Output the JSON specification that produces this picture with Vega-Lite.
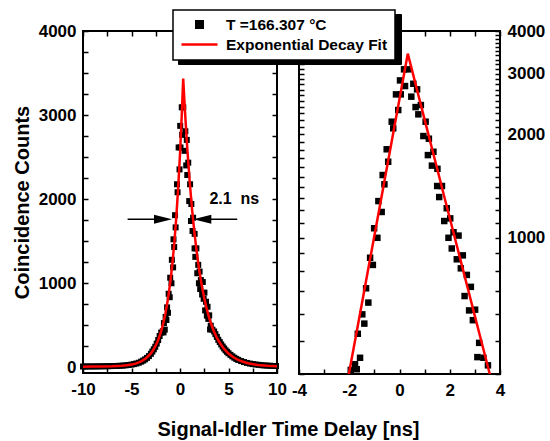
{
  "$schema": "https://vega.github.io/schema/vega-lite/v6.json",
  "padding": {"left": 11, "right": 2, "top": 9, "bottom": 0},
  "bounds": "flush",
  "spacing": 22,
  "config": {
    "font": "Liberation Sans",
    "view": {"stroke": "black", "strokeWidth": 2},
    "axis": {
      "domain": false, "grid": false, "tickColor": "black", "tickWidth": 1.5, "tickSize": -5,
      "labelFont": "Liberation Sans", "labelFontWeight": "bold", "labelFontSize": 17, "labelColor": "black",
      "labelFlush": false, "labelOverlap": false, "titleFont": "Liberation Sans", "titleFontWeight": "bold",
      "titleFontSize": 20, "titleColor": "black"
    },
    "axisX": {"labelPadding": 13},
    "axisY": {"labelPadding": 12},
    "legend": {
      "orient": "none", "title": null, "padding": 7, "labelLimit": 300,
      "labelFont": "Liberation Sans", "labelFontWeight": "bold", "labelFontSize": 15.5,
      "clipHeight": 15, "rowPadding": 4, "symbolOffset": 0
    }
  },
  "datasets": {
    "pts": [
      {"t": -10.0, "c": 7}, {"t": -9.8, "c": 7}, {"t": -9.5, "c": 8}, {"t": -9.2, "c": 8}, {"t": -8.9, "c": 8},
      {"t": -8.6, "c": 9}, {"t": -8.3, "c": 9}, {"t": -8.0, "c": 10}, {"t": -7.7, "c": 10}, {"t": -7.4, "c": 11},
      {"t": -7.1, "c": 12}, {"t": -6.8, "c": 13}, {"t": -6.5, "c": 14}, {"t": -6.2, "c": 16}, {"t": -5.9, "c": 18},
      {"t": -5.6, "c": 21}, {"t": -5.3, "c": 25}, {"t": -5.0, "c": 30}, {"t": -4.75, "c": 36}, {"t": -4.5, "c": 43},
      {"t": -4.25, "c": 52}, {"t": -4.0, "c": 65}, {"t": -3.8, "c": 78}, {"t": -3.6, "c": 92}, {"t": -3.4, "c": 110},
      {"t": -3.2, "c": 131}, {"t": -3.0, "c": 158}, {"t": -2.85, "c": 185}, {"t": -2.7, "c": 212}, {"t": -2.55, "c": 242},
      {"t": -2.4, "c": 280}, {"t": -2.25, "c": 322}, {"t": -2.1, "c": 370},
      {"t": -1.94, "c": 411}, {"t": -1.77, "c": 427}, {"t": -1.70, "c": 413}, {"t": -1.66, "c": 524}, {"t": -1.57, "c": 446},
      {"t": -1.48, "c": 597}, {"t": -1.40, "c": 561}, {"t": -1.33, "c": 711}, {"t": -1.24, "c": 646}, {"t": -1.17, "c": 873},
      {"t": -1.06, "c": 832}, {"t": -1.01, "c": 1064}, {"t": -0.88, "c": 998}, {"t": -0.84, "c": 1277}, {"t": -0.71, "c": 1187},
      {"t": -0.67, "c": 1521}, {"t": -0.60, "c": 1429}, {"t": -0.51, "c": 1808}, {"t": -0.45, "c": 1663}, {"t": -0.31, "c": 2176},
      {"t": -0.25, "c": 2081}, {"t": -0.14, "c": 2614}, {"t": -0.05, "c": 2353}, {"t": 0.02, "c": 2871}, {"t": 0.05, "c": 2614},
      {"t": 0.18, "c": 3092}, {"t": 0.22, "c": 2764}, {"t": 0.34, "c": 3092},
      {"t": 0.47, "c": 2574}, {"t": 0.55, "c": 2807}, {"t": 0.64, "c": 2400}, {"t": 0.70, "c": 2704}, {"t": 0.75, "c": 2286},
      {"t": 0.85, "c": 2433}, {"t": 0.95, "c": 1976}, {"t": 1.04, "c": 2176}, {"t": 1.13, "c": 1739}, {"t": 1.17, "c": 1941},
      {"t": 1.29, "c": 1620}, {"t": 1.35, "c": 1778}, {"t": 1.50, "c": 1413}, {"t": 1.51, "c": 1586}, {"t": 1.58, "c": 1312},
      {"t": 1.69, "c": 1413}, {"t": 1.78, "c": 1117}, {"t": 1.88, "c": 1217}, {"t": 1.95, "c": 998}, {"t": 2.02, "c": 1137},
      {"t": 2.08, "c": 929}, {"t": 2.15, "c": 1036}, {"t": 2.28, "c": 864}, {"t": 2.35, "c": 1013}, {"t": 2.44, "c": 813},
      {"t": 2.52, "c": 887}, {"t": 2.59, "c": 675}, {"t": 2.68, "c": 778}, {"t": 2.77, "c": 613}, {"t": 2.84, "c": 718},
      {"t": 2.92, "c": 574}, {"t": 3.01, "c": 616}, {"t": 3.10, "c": 448}, {"t": 3.17, "c": 493}, {"t": 3.34, "c": 446},
      {"t": 3.52, "c": 424},
      {"t": 3.65, "c": 392}, {"t": 3.8, "c": 360}, {"t": 3.95, "c": 325}, {"t": 4.1, "c": 298}, {"t": 4.25, "c": 270},
      {"t": 4.4, "c": 245}, {"t": 4.55, "c": 222}, {"t": 4.7, "c": 200}, {"t": 4.85, "c": 182}, {"t": 5.0, "c": 165},
      {"t": 5.2, "c": 146}, {"t": 5.4, "c": 128}, {"t": 5.6, "c": 112}, {"t": 5.8, "c": 98}, {"t": 6.0, "c": 86},
      {"t": 6.3, "c": 72}, {"t": 6.6, "c": 60}, {"t": 6.9, "c": 50}, {"t": 7.2, "c": 42}, {"t": 7.5, "c": 36},
      {"t": 7.8, "c": 31}, {"t": 8.1, "c": 27}, {"t": 8.4, "c": 23}, {"t": 8.7, "c": 20}, {"t": 9.0, "c": 18},
      {"t": 9.3, "c": 16}, {"t": 9.6, "c": 14}, {"t": 9.9, "c": 13}
    ],
    "fit": [
      {"t": -10, "c": 5}, {"t": -9, "c": 6}, {"t": -8, "c": 7}, {"t": -7, "c": 9}, {"t": -6, "c": 15},
      {"t": -5.5, "c": 21}, {"t": -5, "c": 30}, {"t": -4.5, "c": 45}, {"t": -4, "c": 68}, {"t": -3.5, "c": 106},
      {"t": -3, "c": 164}, {"t": -2.75, "c": 206}, {"t": -2.5, "c": 258}, {"t": -2.25, "c": 323}, {"t": -2.0, "c": 406},
      {"t": -1.75, "c": 509}, {"t": -1.5, "c": 640}, {"t": -1.25, "c": 805}, {"t": -1.0, "c": 1012}, {"t": -0.8, "c": 1215},
      {"t": -0.6, "c": 1461}, {"t": -0.4, "c": 1755}, {"t": -0.2, "c": 2109}, {"t": 0.0, "c": 2535}, {"t": 0.2, "c": 3048},
      {"t": 0.33, "c": 3435},
      {"t": 0.5, "c": 3070}, {"t": 0.75, "c": 2602}, {"t": 1.0, "c": 2206}, {"t": 1.25, "c": 1870}, {"t": 1.5, "c": 1586},
      {"t": 1.75, "c": 1344}, {"t": 2.0, "c": 1140}, {"t": 2.25, "c": 967}, {"t": 2.5, "c": 820}, {"t": 2.75, "c": 696},
      {"t": 3.0, "c": 590}, {"t": 3.25, "c": 501}, {"t": 3.5, "c": 425}, {"t": 3.75, "c": 361}, {"t": 4.0, "c": 307},
      {"t": 4.5, "c": 222}, {"t": 5.0, "c": 161}, {"t": 5.5, "c": 117}, {"t": 6.0, "c": 85}, {"t": 6.5, "c": 63},
      {"t": 7, "c": 46}, {"t": 8, "c": 26}, {"t": 9, "c": 16}, {"t": 10, "c": 11}
    ]
  },
  "resolve": {"scale": {"x": "independent", "y": "independent"}},
  "hconcat": [
    {
      "width": 194,
      "height": 342,
      "resolve": {"axis": {"x": "independent", "y": "independent"}},
      "layer": [
        {
          "data": {"name": "pts"},
          "mark": {"type": "point", "shape": "square", "filled": true, "size": 36, "opacity": 1},
          "encoding": {
            "x": {"field": "t", "type": "quantitative",
              "scale": {"domain": [-10, 10], "nice": false, "zero": false},
              "axis": {"orient": "bottom", "values": [-10, -7.5, -5, -2.5, 0, 2.5, 5, 7.5, 10],
                "labelExpr": "datum.value % 5 === 0 ? (datum.value < 0 ? '-' + abs(datum.value) : '' + datum.value) : ''",
                "title": "Signal-Idler Time Delay [ns]", "titleX": 205, "titleY": 56, "titleBaseline": "middle"}},
            "y": {"field": "c", "type": "quantitative",
              "scale": {"domain": [-70, 4000], "nice": false, "zero": false},
              "axis": {"orient": "left", "values": [0, 250, 500, 750, 1000, 1250, 1500, 1750, 2000, 2250, 2500, 2750, 3000, 3250, 3500, 3750, 4000],
                "labelExpr": "datum.value % 1000 === 0 ? '' + datum.value : ''",
                "title": "Coincidence Counts", "titlePadding": 6}},
            "color": {"datum": "T =166.307 °C", "type": "nominal",
              "scale": {"domain": ["T =166.307 °C", "Exponential Decay Fit"], "range": ["black", "red"]},
              "legend": {
                "legendX": 90, "legendY": -21, "fillColor": "white", "strokeColor": "black", "zindex": 2, "labelColor": "black",
                "labelOffset": 7,
                "encode": {
                  "legend": {"update": {"strokeWidth": {"value": 1.5}}},
                  "symbols": {"update": {
                    "size": {"value": 1296},
                    "strokeWidth": {"value": 2.5},
                    "shape": {"signal": "datum.value === 'Exponential Decay Fit' ? 'stroke' : 'M-0.18,-0.18H0.18V0.18H-0.18Z'"},
                    "fill": {"signal": "datum.value === 'Exponential Decay Fit' ? 'transparent' : 'black'"},
                    "stroke": {"signal": "datum.value === 'Exponential Decay Fit' ? 'red' : 'transparent'"},
                    "opacity": {"value": 1}
                  }}
                }
              }}
          }
        },
        {
          "data": {"name": "fit"},
          "mark": {"type": "line", "strokeWidth": 2.5},
          "encoding": {
            "x": {"field": "t", "type": "quantitative",
              "axis": {"orient": "top", "values": [-10, -7.5, -5, -2.5, 0, 2.5, 5, 7.5, 10], "labels": false, "title": null}},
            "y": {"field": "c", "type": "quantitative",
              "axis": {"orient": "right", "values": [0, 250, 500, 750, 1000, 1250, 1500, 1750, 2000, 2250, 2500, 2750, 3000, 3250, 3500, 3750, 4000], "labels": false, "title": null}},
            "color": {"datum": "Exponential Decay Fit", "type": "nominal",
              "scale": {"domain": ["T =166.307 °C", "Exponential Decay Fit"], "range": ["black", "red"]},
              "legend": {
                "legendX": 90, "legendY": -21, "fillColor": "white", "strokeColor": "black", "zindex": 2, "labelColor": "black",
                "labelOffset": 7,
                "encode": {
                  "legend": {"update": {"strokeWidth": {"value": 1.5}}},
                  "symbols": {"update": {
                    "size": {"value": 1296},
                    "strokeWidth": {"value": 2.5},
                    "shape": {"signal": "datum.value === 'Exponential Decay Fit' ? 'stroke' : 'M-0.18,-0.18H0.18V0.18H-0.18Z'"},
                    "fill": {"signal": "datum.value === 'Exponential Decay Fit' ? 'transparent' : 'black'"},
                    "stroke": {"signal": "datum.value === 'Exponential Decay Fit' ? 'red' : 'transparent'"},
                    "opacity": {"value": 1}
                  }}
                }
              }}
          }
        },
        {
          "data": {"values": [{"t": -5.4, "t2": -1.9, "c": 1760}, {"t": 2.45, "t2": 5.9, "c": 1760}]},
          "mark": {"type": "rule", "color": "black", "strokeWidth": 1.5},
          "encoding": {
            "x": {"field": "t", "type": "quantitative", "axis": null},
            "x2": {"field": "t2"},
            "y": {"field": "c", "type": "quantitative", "axis": null},
            "strokeDash": {"datum": "a", "type": "nominal",
              "scale": {"domain": ["a", "b"], "range": [[1, 0], [1, 0]]},
              "legend": {
                "legendX": 95, "legendY": -17, "fillColor": "black", "strokeColor": "black", "zindex": 1,
                "symbolSize": 42849, "labelOffset": 0, "labelExpr": "''",
                "encode": {"symbols": {"update": {"opacity": {"value": 0}}}}
              }}
          }
        },
        {
          "data": {"values": [{"t": -1.75, "c": 1760, "dir": "r"}, {"t": 2.3, "c": 1760, "dir": "l"}]},
          "mark": {"type": "point", "filled": true, "color": "black", "size": 324, "opacity": 1},
          "encoding": {
            "x": {"field": "t", "type": "quantitative", "axis": null},
            "y": {"field": "c", "type": "quantitative", "axis": null},
            "shape": {"field": "dir", "type": "nominal", "legend": null,
              "scale": {"domain": ["r", "l"], "range": ["M-1,-0.5L1,0L-1,0.5Z", "M1,-0.5L-1,0L1,0.5Z"]}}
          }
        },
        {
          "data": {"values": [{"t": 5.6, "c": 2000, "label": "2.1\u00a0\u00a0ns"}]},
          "mark": {"type": "text", "font": "Liberation Sans", "fontWeight": "bold", "fontSize": 16, "color": "black", "align": "center", "baseline": "middle"},
          "encoding": {
            "x": {"field": "t", "type": "quantitative", "axis": null},
            "y": {"field": "c", "type": "quantitative", "axis": null},
            "text": {"field": "label"}
          }
        }
      ]
    },
    {
      "width": 201,
      "height": 343,
      "resolve": {"axis": {"x": "independent", "y": "independent"}},
      "layer": [
        {
          "data": {"name": "pts"},
          "mark": {"type": "point", "shape": "square", "filled": true, "size": 42, "opacity": 1, "color": "black", "clip": true},
          "encoding": {
            "x": {"field": "t", "type": "quantitative",
              "scale": {"domain": [-4, 4], "nice": false, "zero": false},
              "axis": {"orient": "bottom", "values": [-4, -3, -2, -1, 0, 1, 2, 3, 4],
                "labelExpr": "datum.value % 2 === 0 ? (datum.value < 0 ? '-' + abs(datum.value) : '' + datum.value) : ''", "title": null}},
            "y": {"field": "c", "type": "quantitative",
              "scale": {"type": "log", "domain": [400, 4000], "nice": false, "zero": false},
              "axis": {"orient": "left", "labels": false, "title": null,
                "values": [400, 500, 600, 700, 800, 900, 1000, 1100, 1200, 1300, 1400, 1500, 1600, 1700, 1800, 1900, 2000, 2100, 2200, 2300, 2400, 2500, 2600, 2700, 2800, 2900, 3000, 3100, 3200, 3300, 3400, 3500, 3600, 3700, 3800, 3900, 4000]}}
          }
        },
        {
          "data": {"name": "fit"},
          "transform": [{"filter": {"field": "t", "range": [-2.3, 3.8]}}],
          "mark": {"type": "line", "strokeWidth": 2.5, "color": "red", "clip": true},
          "encoding": {
            "x": {"field": "t", "type": "quantitative",
              "axis": {"orient": "top", "values": [-4, -3, -2, -1, 0, 1, 2, 3, 4], "labels": false, "title": null}},
            "y": {"field": "c", "type": "quantitative",
              "axis": {"orient": "right", "title": null,
                "values": [400, 500, 600, 700, 800, 900, 1000, 1100, 1200, 1300, 1400, 1500, 1600, 1700, 1800, 1900, 2000, 2100, 2200, 2300, 2400, 2500, 2600, 2700, 2800, 2900, 3000, 3100, 3200, 3300, 3400, 3500, 3600, 3700, 3800, 3900, 4000],
                "labelExpr": "datum.value % 1000 === 0 ? '' + datum.value : ''"}}
          }
        }
      ]
    }
  ]
}
